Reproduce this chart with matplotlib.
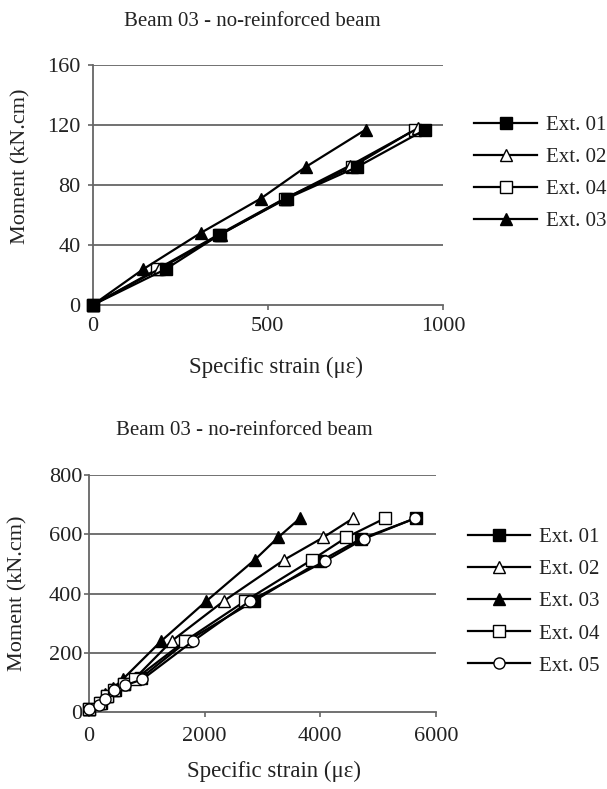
import matplotlib
matplotlib.use("Agg")
from matplotlib import pyplot as plt

plt.rcParams['font.family'] = ['Liberation Serif', 'DejaVu Serif']

# top chart: Beam 03, four extensometers
top_labels = ["Ext. 01", "Ext. 02", "Ext. 04", "Ext. 03"]
top_markers = ["s", "^", "s", "^"]
top_fill = ["black", "white", "white", "black"]
top_order = [5, 4, 3, 6]
top_x = [
    [0, 209, 363, 554, 755, 950],
    [0, 190, 365, 550, 735, 930],
    [0, 185, 360, 548, 740, 920],
    [0, 145, 308, 480, 608, 780],
]
top_y = [
    [0, 24, 47, 71, 92, 117],
    [0, 24, 47, 71, 93, 118],
    [0, 24, 47, 71, 92, 117],
    [0, 24, 48, 71, 92, 117],
]

# bottom chart: Beam 03, five extensometers
bot_labels = ["Ext. 01", "Ext. 02", "Ext. 03", "Ext. 04", "Ext. 05"]
bot_markers = ["s", "^", "^", "s", "o"]
bot_fill = ["black", "white", "black", "white", "white"]
bot_x = [
    [0, 200, 320, 450, 600, 900, 1700, 2850, 4000, 4700, 5650],
    [0, 180, 300, 420, 560, 800, 1430, 2330, 3380, 4050, 4570],
    [0, 150, 280, 420, 580, 1250, 2030, 2870, 3270, 3650],
    [0, 190, 310, 440, 600, 790, 1660, 2700, 3860, 4450, 5120],
    [0, 170, 280, 440, 620, 920, 1800, 2780, 4080, 4750, 5640],
]
bot_y = [
    [10, 30, 55, 75, 95, 115, 240, 375, 510, 585, 655],
    [10, 30, 55, 75, 95, 115, 240, 375, 515, 590, 655],
    [10, 30, 60, 80, 110, 240, 375, 515, 590, 655],
    [10, 30, 55, 75, 95, 110, 240, 375, 515, 590, 655],
    [10, 25, 45, 73, 90, 110, 240, 375, 510, 585, 655],
]

TXT = "#222222"
GRID = "#666666"


def style_axes(ax, xmax, xstep, ymax, ystep, xpad, ypad, xlab_pos, ylab_pos):
    ax.set_xlim(0, xmax)
    ax.set_ylim(0, ymax)
    ax.set_xticks(range(0, xmax + 1, xstep))
    ax.set_yticks(range(0, ymax + 1, ystep))
    for y in range(ystep, ymax + 1, ystep):
        ax.axhline(y, color=GRID, lw=1.3, zorder=1)
    for s in ["top", "right"]:
        ax.spines[s].set_visible(False)
    for s in ["left", "bottom"]:
        ax.spines[s].set_color(GRID)
        ax.spines[s].set_linewidth(1.3)
    ax.tick_params(direction="out", length=3.8, width=1.2, color=GRID,
                   labelsize=16, labelcolor=TXT)
    ax.tick_params(axis="x", pad=xpad)
    ax.tick_params(axis="y", pad=ypad)
    ax.set_xlabel("Specific strain (\u03bc\u03b5)", fontsize=16.5, color=TXT)
    ax.set_ylabel("Moment (kN.cm)", fontsize=16, color=TXT)
    ax.xaxis.set_label_coords(*xlab_pos)
    ax.xaxis.label.set_va("center")
    ax.yaxis.set_label_coords(*ylab_pos)
    ax.yaxis.label.set_va("center")


fig = plt.figure(figsize=(6.07, 7.89), dpi=100)

ax1 = fig.add_axes([0.1527, 0.6134, 0.577, 0.3042])
for lab, m, fc, z, xs, ys in zip(top_labels, top_markers, top_fill, top_order,
                                 top_x, top_y):
    ax1.plot(xs, ys, color="black", lw=1.6, marker=m, markersize=8,
             markerfacecolor=fc, markeredgecolor="black", label=lab,
             clip_on=False, zorder=z)
style_axes(ax1, 1000, 500, 160, 40, 5, 5, (0.523, -0.258), (-0.205, 0.579))
ax1.legend(loc="center left", bbox_to_anchor=(1.09, 0.548), frameon=False,
           fontsize=15, handlelength=3.0, labelspacing=0.6, handletextpad=0.43,
           borderaxespad=0, borderpad=0, labelcolor=TXT)
fig.text(0.415, 0.973, "Beam 03 - no-reinforced beam", ha="center",
         va="center", fontsize=15, color=TXT)

ax2 = fig.add_axes([0.1466, 0.0976, 0.5717, 0.300])
for lab, m, fc, xs, ys in zip(bot_labels, bot_markers, bot_fill, bot_x, bot_y):
    ax2.plot(xs, ys, color="black", lw=1.6, marker=m, markersize=8,
             markerfacecolor=fc, markeredgecolor="black", label=lab,
             clip_on=False, zorder=3)
style_axes(ax2, 6000, 2000, 800, 200, 7, 1.2, (0.533, -0.249), (-0.205, 0.503))
ax2.legend(loc="center left", bbox_to_anchor=(1.092, 0.466), frameon=False,
           fontsize=15, handlelength=3.0, labelspacing=0.6, handletextpad=0.43,
           borderaxespad=0, borderpad=0, labelcolor=TXT)
fig.text(0.402, 0.455, "Beam 03 - no-reinforced beam", ha="center",
         va="center", fontsize=15, color=TXT)

plt.savefig("out.png", dpi=100)
plt.close()
